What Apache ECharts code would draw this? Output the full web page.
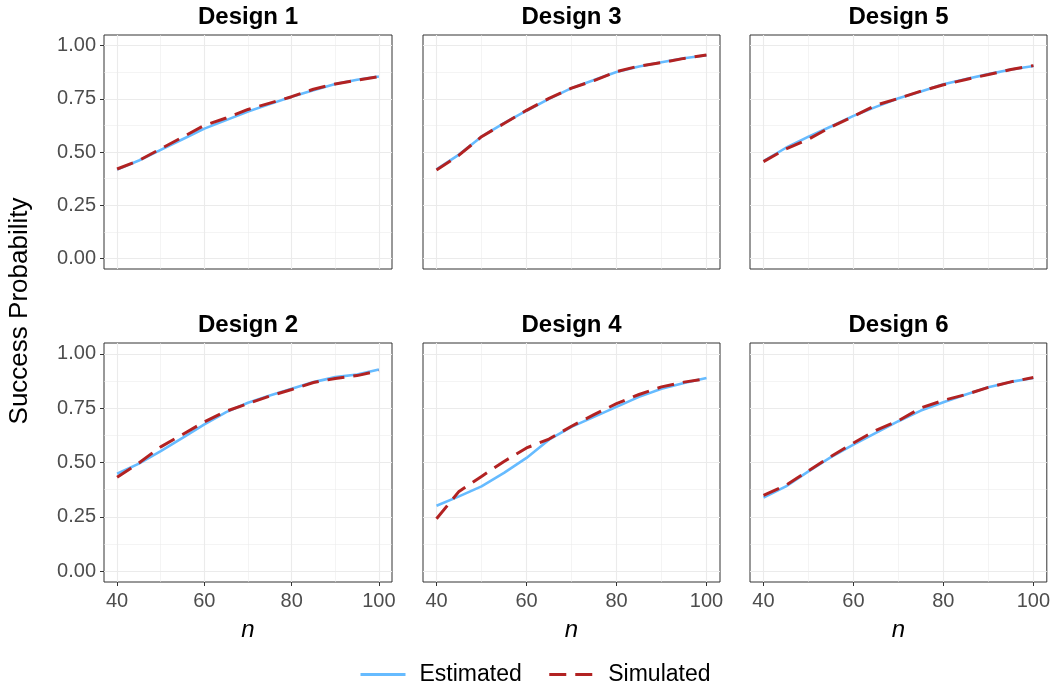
<!DOCTYPE html>
<html>
<head>
<meta charset="utf-8">
<style>
  html, body { margin: 0; padding: 0; background: #ffffff; }
  #chart { width: 1053px; height: 682px; }
</style>
<script src="https://cdn.jsdelivr.net/npm/echarts@6/dist/echarts.min.js"></script>
</head>
<body>
<div id="chart"></div>
<script>
// ---------- data ----------
const nValues = [40, 45, 50, 55, 60, 65, 70, 75, 80, 85, 90, 95, 100];
const designNames = ['Design 1', 'Design 2', 'Design 3', 'Design 4', 'Design 5', 'Design 6'];
const seriesNames = ['Estimated', 'Simulated'];
const xTickLabels = [40, 60, 80, 100];
const xMinorGrid = [50, 70, 90];
const yTickLabels = [0, 0.25, 0.5, 0.75, 1];
const yMinorGrid = [0.125, 0.375, 0.625, 0.875];
const xTitle = 'n';
const yTitle = 'Success Probability';

const estimated1 = [0.417, 0.460, 0.510, 0.560, 0.610, 0.650, 0.690, 0.725, 0.760, 0.790, 0.820, 0.840, 0.855];
const simulated1 = [0.420, 0.460, 0.515, 0.570, 0.625, 0.660, 0.700, 0.730, 0.760, 0.795, 0.820, 0.837, 0.855];
const estimated2 = [0.448, 0.495, 0.552, 0.613, 0.675, 0.732, 0.775, 0.808, 0.839, 0.870, 0.893, 0.905, 0.928];
const simulated2 = [0.432, 0.498, 0.572, 0.629, 0.687, 0.736, 0.771, 0.806, 0.836, 0.868, 0.887, 0.900, 0.922];
const estimated3 = [0.418, 0.488, 0.572, 0.636, 0.694, 0.750, 0.800, 0.838, 0.876, 0.902, 0.922, 0.941, 0.955];
const simulated3 = [0.415, 0.485, 0.572, 0.634, 0.696, 0.752, 0.800, 0.836, 0.878, 0.904, 0.920, 0.940, 0.956];
const estimated4 = [0.301, 0.344, 0.390, 0.452, 0.521, 0.605, 0.664, 0.710, 0.756, 0.802, 0.839, 0.866, 0.889];
const simulated4 = [0.241, 0.367, 0.436, 0.505, 0.567, 0.608, 0.667, 0.720, 0.771, 0.813, 0.848, 0.870, 0.886];
const estimated5 = [0.457, 0.520, 0.572, 0.620, 0.670, 0.712, 0.753, 0.784, 0.818, 0.843, 0.866, 0.888, 0.904];
const simulated5 = [0.455, 0.515, 0.560, 0.618, 0.668, 0.720, 0.752, 0.786, 0.816, 0.841, 0.864, 0.888, 0.906];
const estimated6 = [0.339, 0.390, 0.459, 0.525, 0.582, 0.636, 0.690, 0.739, 0.777, 0.813, 0.846, 0.871, 0.889];
const simulated6 = [0.349, 0.395, 0.462, 0.528, 0.590, 0.648, 0.692, 0.751, 0.786, 0.813, 0.846, 0.871, 0.891];

const estimatedAll = [estimated1, estimated2, estimated3, estimated4, estimated5, estimated6];
const simulatedAll = [simulated1, simulated2, simulated3, simulated4, simulated5, simulated6];

// ---------- layout ----------
const FONT = 'Liberation Sans, Arial, Helvetica, sans-serif';
const colLeft = [104, 423, 750];
const colWidth = [288, 297, 297];
const rowTop = [35, 343];
const rowHeight = [234, 239];
// panel i -> [col, row]  (facet order: Design 1,3,5 top; 2,4,6 bottom)
const panelPos = [[0, 0], [0, 1], [1, 0], [1, 1], [2, 0], [2, 1]];
const blue = '#66BBFF';
const red = '#B22222';

const grids = [], xAxes = [], yAxes = [], series = [], graphics = [];

panelPos.forEach(function (pos, i) {
  const c = pos[0], r = pos[1];
  grids.push({
    left: colLeft[c], top: rowTop[r], width: colWidth[c], height: rowHeight[r],
    show: true, borderColor: '#333333', borderWidth: 1, backgroundColor: '#ffffff',
    containLabel: false
  });
  const bottomRow = r === 1;
  const firstCol = c === 0;
  xAxes.push({
    type: 'value', gridIndex: i, min: 37, max: 103, position: 'bottom',
    axisLine: { show: false, onZero: false },
    axisTick: { show: bottomRow, length: 4, inside: false, customValues: xTickLabels,
      lineStyle: { color: '#333333', width: 1 } },
    axisLabel: { show: bottomRow, customValues: xTickLabels, margin: 9,
      color: '#4D4D4D', fontSize: 20, fontFamily: FONT },
    splitLine: { show: true, lineStyle: { color: '#EBEBEB', width: 1.1 } }
  });
  xAxes.push({
    type: 'value', gridIndex: i, min: 37, max: 103, position: 'bottom',
    axisLine: { show: false, onZero: false },
    axisTick: { show: false, customValues: xMinorGrid },
    axisLabel: { show: false },
    splitLine: { show: true, lineStyle: { color: '#EBEBEB', width: 0.55 } }
  });
  yAxes.push({
    type: 'value', gridIndex: i, min: -0.05, max: 1.05, position: 'left',
    axisLine: { show: false, onZero: false },
    axisTick: { show: firstCol, length: 4, inside: false, customValues: yTickLabels,
      lineStyle: { color: '#333333', width: 1 } },
    axisLabel: { show: firstCol, customValues: yTickLabels, margin: 8,
      color: '#4D4D4D', fontSize: 20, fontFamily: FONT,
      formatter: function (v) { return Number(v).toFixed(2); } },
    splitLine: { show: true, lineStyle: { color: '#EBEBEB', width: 1.1 } }
  });
  yAxes.push({
    type: 'value', gridIndex: i, min: -0.05, max: 1.05, position: 'left',
    axisLine: { show: false, onZero: false },
    axisTick: { show: false, customValues: yMinorGrid },
    axisLabel: { show: false },
    splitLine: { show: true, lineStyle: { color: '#EBEBEB', width: 0.55 } }
  });

  series.push({
    name: seriesNames[0], type: 'line', xAxisIndex: 2 * i, yAxisIndex: 2 * i,
    data: nValues.map(function (n, k) { return [n, estimatedAll[i][k]]; }),
    showSymbol: false, symbol: 'none', smooth: false, z: 3,
    lineStyle: { color: blue, width: 2.6, type: 'solid' }, itemStyle: { color: blue },
    emphasis: { disabled: true }
  });
  series.push({
    name: seriesNames[1], type: 'line', xAxisIndex: 2 * i, yAxisIndex: 2 * i,
    data: nValues.map(function (n, k) { return [n, simulatedAll[i][k]]; }),
    showSymbol: false, symbol: 'none', smooth: false, z: 4,
    lineStyle: { color: red, width: 3, type: [17, 9] }, itemStyle: { color: red },
    emphasis: { disabled: true }
  });

  graphics.push({
    type: 'text', x: colLeft[c] + colWidth[c] / 2, y: r === 0 ? 17 : 325,
    style: { text: designNames[i], fontSize: 24, fontWeight: 'bold', fontFamily: FONT,
      fill: '#000000', textAlign: 'center', textVerticalAlign: 'middle' }
  });
  if (bottomRow) {
    graphics.push({
      type: 'text', x: colLeft[c] + colWidth[c] / 2, y: 630,
      style: { text: xTitle, fontSize: 24, fontStyle: 'italic', fontFamily: FONT,
        fill: '#000000', textAlign: 'center', textVerticalAlign: 'middle' }
    });
  }
});

graphics.push({
  type: 'text', x: 20, y: 311, rotation: Math.PI / 2,
  style: { text: yTitle, fontSize: 26, fontFamily: FONT, fill: '#000000',
    textAlign: 'center', textVerticalAlign: 'middle' }
});

const chart = echarts.init(document.getElementById('chart'), null, { renderer: 'canvas' });
chart.setOption({
  animation: false,
  backgroundColor: '#ffffff',
  grid: grids,
  xAxis: xAxes,
  yAxis: yAxes,
  series: series,
  graphic: graphics,
  legend: {
    data: seriesNames,
    left: 359, top: 663, padding: 0,
    itemWidth: 45, itemHeight: 14, itemGap: 26,
    itemStyle: { opacity: 0 },
    lineStyle: { width: 3 },
    textStyle: { fontSize: 23, fontFamily: FONT, color: '#000000', padding: [0, 0, 0, 9] }
  }
});
</script>
</body>
</html>
